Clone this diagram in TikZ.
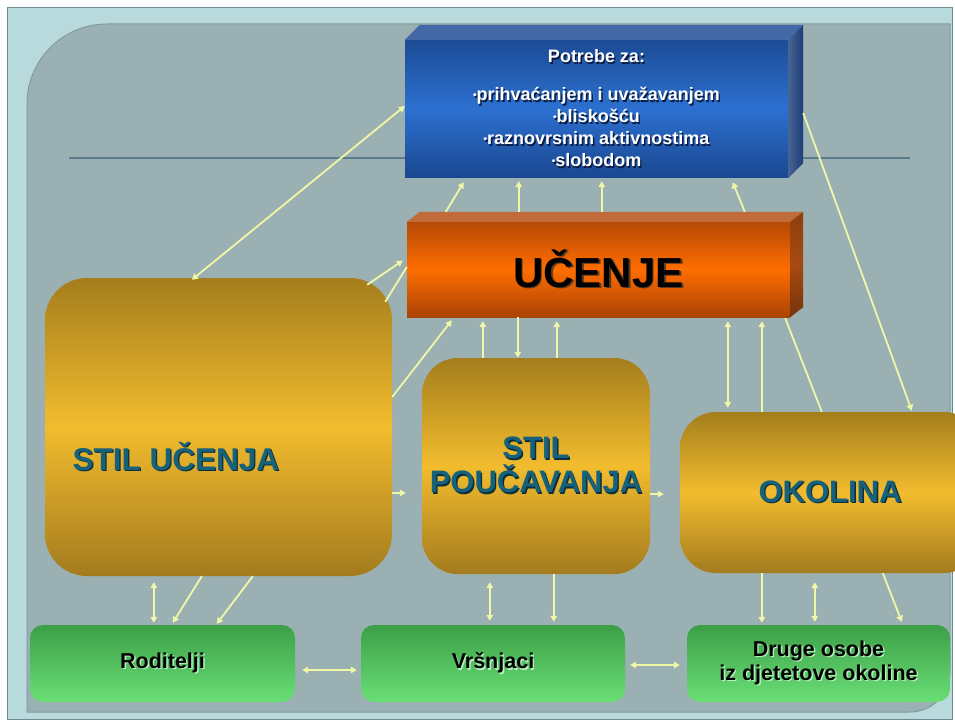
\documentclass[tikz,border=0pt]{standalone}
\usepackage{fontspec}
\setmainfont{Liberation Sans}
\usetikzlibrary{arrows.meta}

\definecolor{framebg}{HTML}{B8DADC}
\definecolor{frameedge}{HTML}{6E8B92}
\definecolor{panelbg}{HTML}{9BB0B2}
\definecolor{paneledge}{HTML}{849B9D}
\definecolor{rulec}{HTML}{5B7B8A}
\definecolor{arrowc}{HTML}{F0F7A6}
\definecolor{goldtop}{HTML}{A47E1D}
\definecolor{goldmid}{HTML}{F2BC2E}
\definecolor{goldbot}{HTML}{A37B1E}
\definecolor{greentop}{HTML}{3C9F47}
\definecolor{greenbot}{HTML}{6ADF76}
\definecolor{tealtxt}{HTML}{17617A}
\definecolor{tealsh}{HTML}{0B2F3C}
\definecolor{ortop}{HTML}{B44A06}
\definecolor{ormid}{HTML}{FF6D00}
\definecolor{orbot}{HTML}{A94306}
\definecolor{ortopface}{HTML}{C26B3A}
\definecolor{orside}{HTML}{A64A10}
\definecolor{bltop}{HTML}{1C4B95}
\definecolor{blmid}{HTML}{2C70D0}
\definecolor{blbot}{HTML}{1A4790}
\definecolor{bltopface}{HTML}{4467A6}
\definecolor{blside}{HTML}{1B3D78}
\definecolor{bluesh}{HTML}{0A1A40}
\definecolor{greysh}{HTML}{5A3A20}
\definecolor{greensh}{HTML}{B8EFC0}

% text with a small drop shadow
\newcommand\shd[3][1.4pt]{\leavevmode\rlap{\hspace{#1}\raisebox{-#1}{\textcolor{#2}{#3}}}#3}
\newcommand\bul{\raisebox{0.22ex}{\fontsize{10}{10}\selectfont\textbullet}}

\begin{document}
\begin{tikzpicture}[x=1pt,y=-1pt,
  >={Triangle[length=6pt,width=6.5pt]},
  conn/.style={draw=arrowc,line width=1.8pt},
  frontblue/.style={top color=bltop,bottom color=blbot,middle color=blmid,inner sep=0pt,
    text=white,align=center,font=\fontsize{18}{22}\selectfont\bfseries},
  frontorange/.style={top color=ortop,bottom color=orbot,middle color=ormid,inner sep=0pt,
    font=\fontsize{42}{44}\selectfont\bfseries},
  goldbox/.style={top color=goldtop,bottom color=goldbot,middle color=goldmid,inner sep=0pt,
    text=tealtxt,align=center,font=\fontsize{31}{34}\selectfont\bfseries},
  greenbox/.style={top color=greentop,bottom color=greenbot,rounded corners=13pt,inner sep=0pt,
    minimum height=77pt,align=center,font=\fontsize{21.5}{24}\selectfont\bfseries}]
\useasboundingbox (0,0) rectangle (955,722);
\clip (0,0) rectangle (955,722);

% slide frame and panel
\fill[white] (0,0) rectangle (955,722);
\filldraw[fill=framebg,draw=frameedge,line width=1pt] (7,8) rectangle (952,719);
\filldraw[fill=panelbg,draw=paneledge,line width=1pt] (27,712) -- (27,104)
  arc[start angle=180,end angle=270,radius=80] -- (950,24) -- (950,672)
  arc[start angle=0,end angle=90,radius=40] -- cycle;
\draw[rulec,line width=1.6pt] (69,158) -- (910,158);

% needs box
\node[frontblue,minimum width=383pt,minimum height=138pt] (blue) at (596.5,109)
  {\shd{bluesh}{Potrebe za:}\\[16pt]
   \shd{bluesh}{\bul prihvaćanjem i uvažavanjem}\\
   \shd{bluesh}{\bul bliskošću}\\
   \shd{bluesh}{\bul raznovrsnim aktivnostima}\\
   \shd{bluesh}{\bul slobodom}};
\fill[bltopface] (blue.north west) -- ++(15,-15) -- ([xshift=15pt,yshift=15pt]blue.north east)
  -- (blue.north east) -- cycle;
\shade[left color=blside!80!white,right color=blside] (blue.north east) -- ++(15,-15)
  -- ([xshift=15pt,yshift=15pt]blue.south east) -- (blue.south east) -- cycle;

% learning box
\node[frontorange,minimum width=383pt,minimum height=95pt] (ucenje) at (598.5,269.5)
  {\shd[1.5pt]{greysh}{UČENJE}};
\fill[ortopface] (ucenje.north west) -- ++(13,-10) -- ([xshift=13pt,yshift=10pt]ucenje.north east)
  -- (ucenje.north east) -- cycle;
\shade[top color=orside!85!black,bottom color=orside!70!black,middle color=orside]
  (ucenje.north east) -- ++(13,-10)
  -- ([xshift=13pt,yshift=10pt]ucenje.south east) -- (ucenje.south east) -- cycle;

% style and environment boxes
\node[goldbox,rounded corners=42pt,minimum width=347pt,minimum height=298pt] (su) at (218.5,427) {};
\node[text=tealtxt,font=\fontsize{31.5}{34}\selectfont\bfseries,anchor=west] (sutext) at (69,457)
  {\shd{tealsh}{STIL UČENJA}};
\node[goldbox,rounded corners=36pt,minimum width=228pt,minimum height=216pt] (sp) at (536,466)
  {\shd{tealsh}{STIL}\\\shd{tealsh}{POUČAVANJA}};
\node[goldbox,rounded corners=36pt,minimum width=300pt,minimum height=161pt] (ok) at (830,492.5)
  {\raisebox{-3pt}{\shd{tealsh}{OKOLINA}}};

% people boxes
\node[greenbox,minimum width=265pt] (rod) at (162.5,663.5) {\shd{greensh}{Roditelji}};
\node[greenbox,minimum width=264pt] (vrs) at (493,663.5) {\shd{greensh}{Vršnjaci}};
\node[greenbox,minimum width=263pt] (dru) at (818.5,663.5)
  {\shd{greensh}{Druge osobe}\\\shd{greensh}{iz djetetove okoline}};

% connectors around the learning box
\draw[conn,<->] ([xshift=147pt,yshift=-2pt]su.north west) -- ([yshift=3pt]blue.west);
\draw[conn,->] ([xshift=-25pt,yshift=-7pt]su.north east) -- ([xshift=-4pt,yshift=9pt]ucenje.west);
\draw[conn] ([xshift=-7pt,yshift=-24pt]su.north east) -- ([yshift=2.5pt]ucenje.west);
\draw[conn,->] ([yshift=30pt]su.east) -- ([xshift=45pt,yshift=-3pt]ucenje.south west);
\draw[conn,->] ([xshift=39pt,yshift=10pt]ucenje.north west) -- ([xshift=59pt,yshift=-4pt]blue.south west);
\draw[conn,->] ([xshift=112pt,yshift=10pt]ucenje.north west) -- ([xshift=114pt,yshift=-3pt]blue.south west);
\draw[conn,->] ([xshift=195pt,yshift=10pt]ucenje.north west) -- ([xshift=197pt,yshift=-3pt]blue.south west);
\draw[conn,->] ([xshift=338pt,yshift=10pt]ucenje.north west) -- ([xshift=328pt,yshift=-4pt]blue.south west);
\draw[conn,->] ([xshift=15pt,yshift=-4pt]blue.east) -- ([xshift=232pt,yshift=1pt]ok.north west);
\draw[conn] ([xshift=-5pt,yshift=-1pt]ucenje.south east) -- ([xshift=142pt]ok.north west);
\draw[conn,<->] ([xshift=321pt,yshift=-4pt]ucenje.south west) -- ([xshift=48pt,yshift=4pt]ok.north west);
\draw[conn,->] ([xshift=82pt]ok.north west) -- ([xshift=355pt,yshift=-4pt]ucenje.south west);
\draw[conn,->] ([xshift=61pt]sp.north west) -- ([xshift=76pt,yshift=-4pt]ucenje.south west);
\draw[conn,->] ([xshift=111pt]ucenje.south west) -- ([xshift=96pt]sp.north west);
\draw[conn,->] ([xshift=135pt]sp.north west) -- ([xshift=150pt,yshift=-4pt]ucenje.south west);

% short links between the style boxes
\draw[conn,->] ([yshift=-66pt]su.east) -- ([xshift=-16pt,yshift=-27pt]sp.west);
\draw[conn,->] ([yshift=-28pt]sp.east) -- ([xshift=-16pt,yshift=-1.5pt]ok.west);

% connectors down to the people boxes
\draw[conn,<->] ([xshift=109pt,yshift=-6pt]su.south west) -- ([xshift=124pt,yshift=2pt]rod.north west);
\draw[conn,->] ([xshift=157pt]su.south west) -- ([xshift=143pt,yshift=2pt]rod.north west);
\draw[conn,->] ([xshift=208pt]su.south west) -- ([xshift=187pt,yshift=1pt]rod.north west);
\draw[conn,<->] ([xshift=68pt,yshift=-8pt]sp.south west) -- ([xshift=129pt,yshift=4pt]vrs.north west);
\draw[conn,->] ([xshift=132pt]sp.south west) -- ([xshift=193pt,yshift=3pt]vrs.north west);
\draw[conn,->] ([xshift=82pt]ok.south west) -- ([xshift=75pt,yshift=2pt]dru.north west);
\draw[conn,<->] ([xshift=135pt,yshift=-9pt]ok.south west) -- ([xshift=128pt,yshift=3pt]dru.north west);
\draw[conn,->] ([xshift=203pt]ok.south west) -- ([xshift=215pt,yshift=3pt]dru.north west);

% links between the people boxes
\draw[conn,<->] ([xshift=7pt,yshift=-6.5pt]rod.east) -- ([xshift=-4pt,yshift=-6.5pt]vrs.west);
\draw[conn,<->] ([xshift=5pt,yshift=-1.5pt]vrs.east) -- ([xshift=-7pt,yshift=-1.5pt]dru.west);
\end{tikzpicture}
\end{document}
